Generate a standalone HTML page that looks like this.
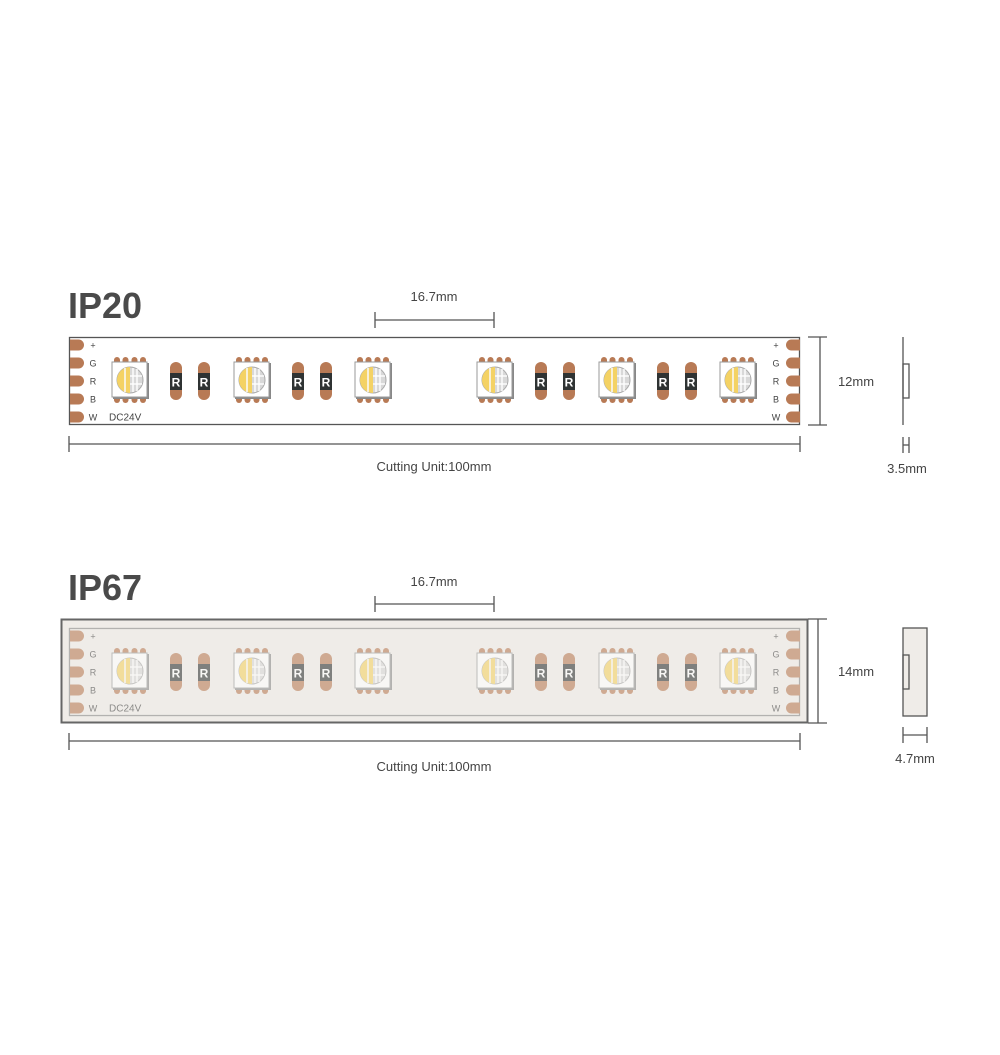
<!DOCTYPE html>
<html><head><meta charset="utf-8"><style>
html,body{margin:0;padding:0;background:#fff;}
svg{display:block;}
text{font-family:"Liberation Sans",sans-serif;}
</style></head><body>
<svg width="1000" height="1055" viewBox="0 0 1000 1055" xmlns="http://www.w3.org/2000/svg">
<defs>
  <g id="led">
    <g fill="#b87a55">
      <rect x="-16" y="-23" width="6" height="9" rx="3"/>
      <rect x="-7.5" y="-23" width="6" height="9" rx="3"/>
      <rect x="1.5" y="-23" width="6" height="9" rx="3"/>
      <rect x="10" y="-23" width="6" height="9" rx="3"/>
      <rect x="-16" y="14" width="6" height="9" rx="3"/>
      <rect x="-7.5" y="14" width="6" height="9" rx="3"/>
      <rect x="1.5" y="14" width="6" height="9" rx="3"/>
      <rect x="10" y="14" width="6" height="9" rx="3"/>
    </g>
    <rect x="-17" y="-17" width="36" height="36" fill="#888"/>
    <rect x="-18" y="-18" width="35" height="35" fill="#fff" stroke="#9a9a9a" stroke-width="1"/>
    <circle cx="0" cy="0" r="13" fill="#d8d8d8" stroke="#aaa" stroke-width="1"/>
    <path d="M0,-13 A13,13 0 0 0 0,13 Z" fill="#f4d264"/>
    <path d="M-5,-12 L-5,12" stroke="#f8f0d8" stroke-width="2"/>
    <g stroke="#fff" stroke-width="1.4">
      <line x1="3" y1="-12" x2="3" y2="12"/>
      <line x1="7" y1="-11" x2="7" y2="11"/>
      <line x1="0" y1="-4" x2="12" y2="-4"/>
      <line x1="0" y1="4" x2="12" y2="4"/>
    </g>
  </g>
  <g id="res">
    <rect x="-6" y="-19" width="12" height="38" rx="6" fill="#b87a55"/>
    <rect x="-6" y="-8" width="12" height="17" fill="#2f3333"/>
    <text x="0" y="5.5" font-size="12" font-weight="bold" fill="#fff" text-anchor="middle">R</text>
  </g>
  <g id="pad">
    <path d="M0,-5.5 H8.5 A5.5,5.5 0 0 1 8.5,5.5 H0 Z" fill="#b87a55"/>
  </g>
  <g id="padr">
    <path d="M0,-5.5 H-8.5 A5.5,5.5 0 0 0 -8.5,5.5 H0 Z" fill="#b87a55"/>
  </g>
  <g id="content">
    <use href="#pad" x="70" y="8"/><use href="#pad" x="70" y="26"/><use href="#pad" x="70" y="44"/><use href="#pad" x="70" y="62"/><use href="#pad" x="70" y="80"/>
    <use href="#padr" x="800" y="8"/><use href="#padr" x="800" y="26"/><use href="#padr" x="800" y="44"/><use href="#padr" x="800" y="62"/><use href="#padr" x="800" y="80"/>
    <g font-size="9" fill="#444" text-anchor="middle">
      <text x="93" y="11.5">+</text><text x="93" y="29.5">G</text><text x="93" y="47.5">R</text><text x="93" y="65.5">B</text><text x="93" y="83.5">W</text>
      <text x="776" y="11.5">+</text><text x="776" y="29.5">G</text><text x="776" y="47.5">R</text><text x="776" y="65.5">B</text><text x="776" y="83.5">W</text>
    </g>
    <text x="109" y="83.5" font-size="10" fill="#444">DC24V</text>
    <use href="#led" x="130" y="43"/><use href="#led" x="252" y="43"/><use href="#led" x="373" y="43"/>
    <use href="#led" x="495" y="43"/><use href="#led" x="617" y="43"/><use href="#led" x="738" y="43"/>
    <use href="#res" x="176" y="44"/><use href="#res" x="204" y="44"/>
    <use href="#res" x="298" y="44"/><use href="#res" x="326" y="44"/>
    <use href="#res" x="541" y="44"/><use href="#res" x="569" y="44"/>
    <use href="#res" x="663" y="44"/><use href="#res" x="691" y="44"/>
  </g>
</defs>

<!-- IP20 -->
<text x="68" y="318" font-size="36" font-weight="bold" fill="#4a4a4a">IP20</text>
<text x="434" y="301" font-size="13" fill="#444" text-anchor="middle">16.7mm</text>
<g stroke="#555" stroke-width="1.3" fill="none">
  <line x1="375" y1="320" x2="494" y2="320"/><line x1="375" y1="312" x2="375" y2="328"/><line x1="494" y1="312" x2="494" y2="328"/>
</g>
<rect x="69.5" y="337.5" width="730" height="87" fill="#fff" stroke="#555" stroke-width="1.3"/>
<use href="#content" x="0" y="337"/>
<g stroke="#555" stroke-width="1.3" fill="none">
  <line x1="820" y1="337" x2="820" y2="425"/><line x1="808" y1="337" x2="827" y2="337"/><line x1="808" y1="425" x2="827" y2="425"/>
  <line x1="69" y1="444" x2="800" y2="444"/><line x1="69" y1="436" x2="69" y2="452"/><line x1="800" y1="436" x2="800" y2="452"/>
  <line x1="903" y1="337" x2="903" y2="425"/><rect x="903" y="364" width="6" height="34"/>
  <line x1="903" y1="437" x2="903" y2="453"/><line x1="909" y1="437" x2="909" y2="453"/><line x1="903" y1="445" x2="909" y2="445"/>
</g>
<text x="856" y="386" font-size="13" fill="#444" text-anchor="middle">12mm</text>
<text x="434" y="471" font-size="13" fill="#444" text-anchor="middle">Cutting Unit:100mm</text>
<text x="907" y="473" font-size="13" fill="#444" text-anchor="middle">3.5mm</text>

<!-- IP67 -->
<text x="68" y="600" font-size="36" font-weight="bold" fill="#4a4a4a">IP67</text>
<text x="434" y="586" font-size="13" fill="#444" text-anchor="middle">16.7mm</text>
<g stroke="#555" stroke-width="1.3" fill="none">
  <line x1="375" y1="604" x2="494" y2="604"/><line x1="375" y1="596" x2="375" y2="612"/><line x1="494" y1="596" x2="494" y2="612"/>
</g>
<rect x="61.5" y="619.5" width="746" height="103" fill="#efece8" stroke="#666" stroke-width="2"/>
<rect x="69.5" y="628.5" width="730" height="87" fill="#efece8" stroke="#888" stroke-width="1.2"/>
<use href="#content" x="0" y="628"/>
<rect x="69" y="628" width="731" height="88" fill="#efece8" opacity="0.42"/>
<g stroke="#555" stroke-width="1.3" fill="none">
  <line x1="818" y1="619" x2="818" y2="723"/><line x1="808" y1="619" x2="827" y2="619"/><line x1="808" y1="723" x2="827" y2="723"/>
  <line x1="69" y1="741" x2="800" y2="741"/><line x1="69" y1="733" x2="69" y2="750"/><line x1="800" y1="733" x2="800" y2="750"/>
  <rect x="903" y="628" width="24" height="88" fill="#efece8"/><rect x="903" y="655" width="6" height="34"/>
  <line x1="903" y1="727" x2="903" y2="743"/><line x1="927" y1="727" x2="927" y2="743"/><line x1="903" y1="735" x2="927" y2="735"/>
</g>
<text x="856" y="676" font-size="13" fill="#444" text-anchor="middle">14mm</text>
<text x="434" y="771" font-size="13" fill="#444" text-anchor="middle">Cutting Unit:100mm</text>
<text x="915" y="763" font-size="13" fill="#444" text-anchor="middle">4.7mm</text>
</svg>
</body></html>
